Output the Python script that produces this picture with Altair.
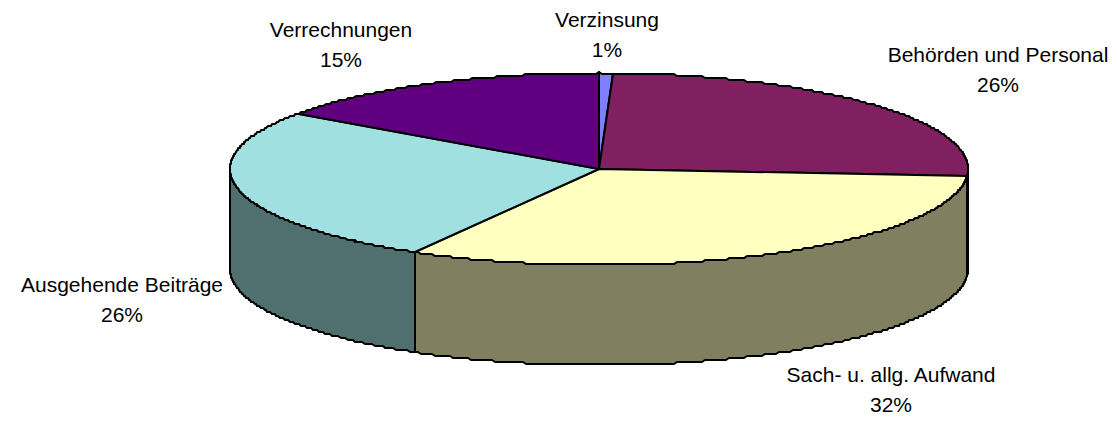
import math
import altair as alt

# Chart values
categories = ["Verzinsung", "Behörden und Personal", "Sach- u. allg. Aufwand", "Ausgehende Beiträge", "Verrechnungen"]
shares = [0.6, 25.7, 32.0, 26.6, 15.1]
pct_labels = ["1%", "26%", "32%", "26%", "15%"]

# Styles
top_colors = ["#8080FF", "#802060", "#FFFFC0", "#A0E0E0", "#600080"]
wall_colors = ["#404080", "#401030", "#808060", "#507070", "#300040"]

# Layout (page pixels minus the 8px body margin)
W, H = 1101, 412
CX, CY, RX, RY, DEPTH = 591, 161, 369, 96, 100
# label offset from the slice's rim point at mid-angle
label_dx = [1, 123, 120, -116, -89]
label_dy = [-53, -50, 22, -4, -53]
LINE_GAP = 29.5
STEP = 2  # the reference's outline is stair-stepped


def rim(t, drop=0):
    r = math.radians(t)
    y = CY - RY * math.cos(r)
    return [round(CX + RX * math.sin(r)), STEP * round(y / STEP) + drop]


def arc(a, b, drop=0):
    n = max(2, int(abs(b - a) * 2))
    return [rim(a + (b - a) * i / n, drop) for i in range(n + 1)]


def feature(ring, color):
    ring = ring + [ring[0]]
    return {"type": "Feature", "properties": {"color": color},
            "geometry": {"type": "Polygon", "coordinates": [ring]}}


walls, tops, rows = [], [], []
total = sum(shares)
start = 0.0
for name, share, pct, top, wall, dx, dy in zip(categories, shares, pct_labels, top_colors, wall_colors, label_dx, label_dy):
    end = start + share / total * 360
    tops.append(feature([[CX, CY]] + arc(start, end), top))
    a, b = max(start, 90), min(end, 270)
    if a < b:
        walls.append(feature(arc(a, b) + arc(b, a, DEPTH), wall))
    mid = (start + end) / 2
    front = 90 < mid < 270
    px, py = rim(mid, DEPTH if front else 0)
    rows.append({"name": name, "pct": pct, "x": px + dx, "y": py + dy, "y2": py + dy + LINE_GAP})
    start = end

shapes = alt.Chart(alt.Data(values=walls + tops)).mark_geoshape(
    stroke="black", strokeWidth=2, strokeJoin="round"
).encode(color=alt.Color("properties.color:N", scale=None)).project(type="identity", scale=1, translate=[0, 0])

x_enc = alt.X("x:Q", scale=alt.Scale(domain=[0, W], range=[0, W]), axis=None)
y_scale = alt.Scale(domain=[0, H], range=[0, H])
text_style = dict(font="Liberation Sans", fontSize=21, color="black", align="center", baseline="middle")

names = alt.Chart(alt.Data(values=rows)).mark_text(**text_style).encode(
    x=x_enc, y=alt.Y("y:Q", scale=y_scale, axis=None), text="name:N")
pcts = alt.Chart(alt.Data(values=rows)).mark_text(**text_style).encode(
    x=x_enc, y=alt.Y("y2:Q", scale=y_scale, axis=None), text="pct:N")

chart = alt.layer(shapes, names, pcts).properties(
    width=W, height=H, padding=0, autosize=alt.AutoSizeParams(type="none"), background="white"
).configure_view(stroke=None)

chart.save("out.html", embed_options={"renderer": "svg", "actions": False})
